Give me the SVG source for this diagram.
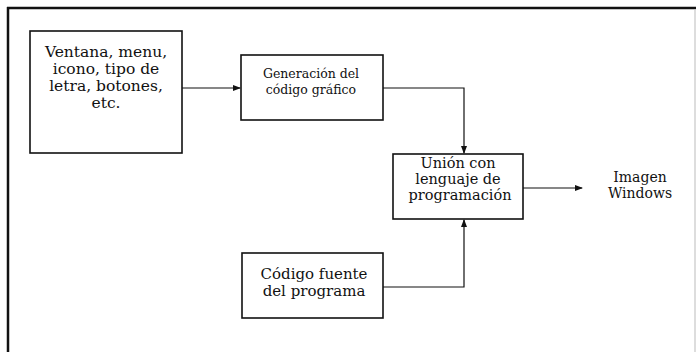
<svg xmlns="http://www.w3.org/2000/svg" width="696" height="352" viewBox="0 0 696 352">
<defs>
<style>
.box{fill:#fff;stroke:#111;stroke-width:1.6}
.t{font-family:'DejaVu Serif','Liberation Serif',serif;fill:#111;text-anchor:middle}
.c{fill:none;stroke:#111;stroke-width:1.2}
</style>
<marker id="ah" markerWidth="8" markerHeight="6" refX="7" refY="3" orient="auto" markerUnits="userSpaceOnUse">
<path d="M0,0 L8,3 L0,6 Z" fill="#111"/>
</marker>
</defs>
<rect width="696" height="352" fill="#fff"/>
<g id="frame">
<line x1="7" y1="8" x2="696" y2="8" stroke="#111" stroke-width="2.5"/>
<line x1="8" y1="7" x2="8" y2="352" stroke="#111" stroke-width="2.5"/>
<line x1="695" y1="10" x2="695" y2="352" stroke="#bbb" stroke-width="1"/>
</g>
<g id="n1">
<rect class="box" x="30" y="31" width="152" height="122"/>
<text class="t" font-size="15.5"><tspan x="106" y="57">Ventana, menu,</tspan><tspan x="106" y="74">icono, tipo de</tspan><tspan x="106" y="91">letra, botones,</tspan><tspan x="106" y="108">etc.</tspan></text>
</g>
<g id="n2">
<rect class="box" x="241" y="55" width="142" height="65"/>
<text class="t" font-size="12.5"><tspan x="311" y="78">Generación del</tspan><tspan x="311" y="94">código gráfico</tspan></text>
</g>
<g id="n3">
<rect class="box" x="393" y="154" width="130" height="65"/>
<text class="t" font-size="14.5"><tspan x="458" y="168">Unión con</tspan><tspan x="458" y="184">lenguaje de</tspan><tspan x="460" y="200">programación</tspan></text>
</g>
<g id="n4">
<rect class="box" x="242" y="253" width="141" height="65"/>
<text class="t" font-size="15"><tspan x="314" y="279">Código fuente</tspan><tspan x="314" y="296">del programa</tspan></text>
</g>
<g id="n5">
<text class="t" font-size="14"><tspan x="640" y="182">Imagen</tspan><tspan x="640" y="198">Windows</tspan></text>
</g>
<g id="connectors">
<line class="c" x1="182" y1="88" x2="240" y2="88" marker-end="url(#ah)"/>
<polyline class="c" points="383,88 464,88 464,153" marker-end="url(#ah)"/>
<polyline class="c" points="383,287 464,287 464,220" marker-end="url(#ah)"/>
<line class="c" x1="523" y1="188" x2="582" y2="188" marker-end="url(#ah)"/>
</g>
</svg>
